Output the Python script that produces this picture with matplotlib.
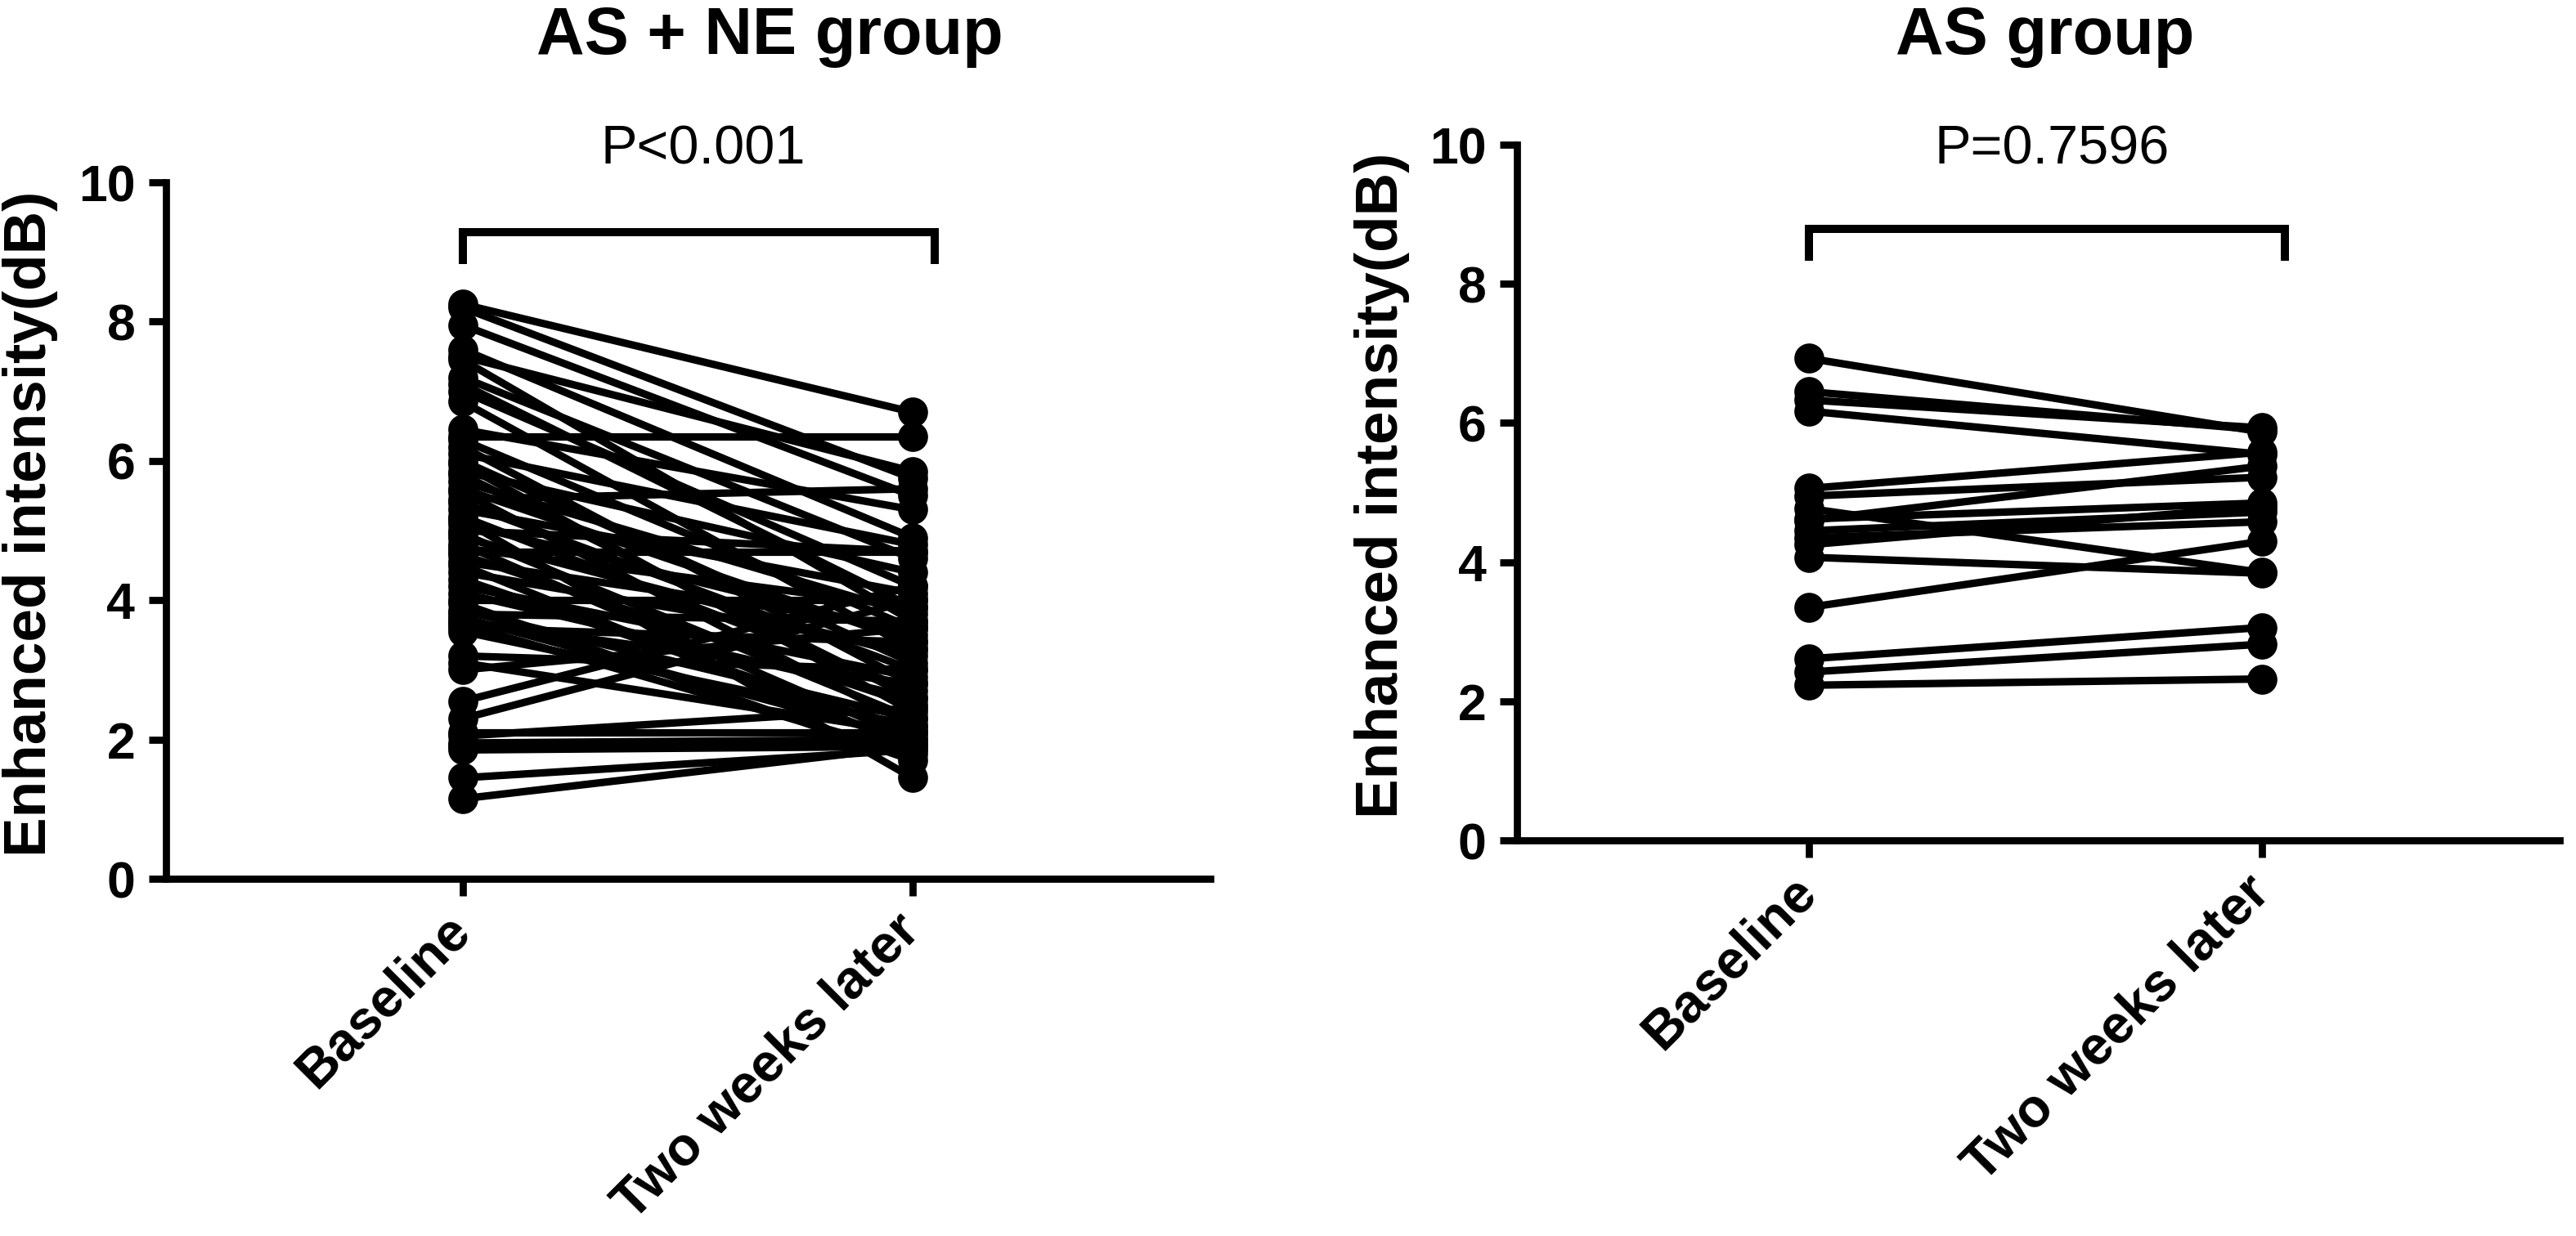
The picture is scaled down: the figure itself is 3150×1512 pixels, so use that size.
#-  plot.py ~~
#
#   Paired before/after plot of enhanced intensity for the two treatment
#   groups, drawn as two side-by-side panels like the GraphPad original.

import matplotlib
matplotlib.use("Agg")
import matplotlib.pyplot as pyplot

###

categories = ["Baseline", "Two weeks later"]

ne_baseline = [8.25, 8.20, 7.95, 7.60, 7.50, 7.45, 7.20, 7.10, 7.00, 6.85,
               6.45, 6.35, 6.30, 6.20, 6.10, 6.00, 5.95, 5.85, 5.80, 5.70,
               5.60, 5.55, 5.45, 5.40, 5.30, 5.20, 5.15, 5.10, 5.00, 4.95,
               4.90, 4.80, 4.75, 4.70, 4.65, 4.55, 4.50, 4.40, 4.30, 4.20,
               4.10, 4.00, 3.95, 3.85, 3.80, 3.75, 3.70, 3.65, 3.60, 3.55,
               3.20, 3.10, 3.00, 2.55, 2.30, 2.10, 2.05, 1.95, 1.90, 1.85,
               1.45, 1.15]
ne_later = [6.70, 5.75, 5.50, 4.90, 5.85, 3.70, 4.60, 3.90, 4.20, 3.30,
            5.30, 6.35, 3.60, 2.80, 4.80, 3.10, 2.40, 4.40, 2.60, 3.80,
            3.40, 2.20, 5.60, 3.00, 4.10, 2.70, 1.45, 3.50, 4.70, 2.30,
            3.20, 2.00, 3.90, 4.70, 2.50, 3.60, 1.90, 3.30, 2.10, 2.90,
            2.60, 4.00, 1.70, 2.30, 3.70, 2.00, 2.80, 1.80, 3.40, 2.20,
            3.00, 2.10, 3.60, 4.20, 4.00, 2.10, 2.45, 2.00, 1.95, 1.90,
            1.85, 1.90]

as_baseline = [6.93, 6.45, 6.33, 6.17, 5.06, 4.95, 4.60, 4.77, 4.62, 4.45,
               4.35, 4.25, 4.07, 3.35, 2.61, 2.42, 2.23]
as_later = [5.87, 5.90, 5.93, 5.55, 5.58, 5.22, 5.38, 3.85, 4.85, 4.72,
            4.58, 4.80, 3.84, 4.30, 3.06, 2.82, 2.32]

titles = ["AS + NE group", "AS group"]
p_labels = ["P<0.001", "P=0.7596"]
y_label = "Enhanced intensity(dB)"
y_ticks = [0, 2, 4, 6, 8, 10]

###

def draw_panel(fig, rect, xlim, before, after, title, title_x, p_text, p_y,
               p_x, bracket_y, bracket_drop):

    ax = fig.add_axes(rect)

    for b, a in zip(before, after):
        ax.plot([0, 1], [b, a], color="black", linewidth=2.2, marker="o",
                markersize=7.8, solid_capstyle="butt", clip_on=False)

    ax.set_xlim(*xlim)
    ax.set_ylim(0, 10)
    ax.set_yticks(y_ticks)
    ax.set_xticks([0, 1])
  # Rotated labels pinned by their mid-line so they sit under the tick
    ax.set_xticklabels(categories, rotation=45, ha="right", va="center",
                       rotation_mode="anchor", fontsize=15.8,
                       fontweight="bold")
    ax.set_yticklabels([str(t) for t in y_ticks], fontsize=15,
                       fontweight="bold")
    ax.set_ylabel(y_label, fontsize=17.5, fontweight="bold")
    ax.yaxis.set_label_coords(-0.103, 0.51)

  # GraphPad style: only left and bottom spines, thick, ticks outward
    for side in ("top", "right"):
        ax.spines[side].set_visible(False)
    for side in ("left", "bottom"):
        ax.spines[side].set_linewidth(2.1)
    ax.tick_params(axis="y", direction="out", width=2.1, length=5, pad=4)
    ax.tick_params(axis="x", direction="out", width=2.1, length=5, pad=8)

  # Significance bracket and p value above it
    ax.plot([0, 0, 1.05, 1.05],
            [bracket_y - bracket_drop, bracket_y, bracket_y,
             bracket_y - bracket_drop],
            color="black", linewidth=2.4, solid_joinstyle="miter",
            clip_on=False)
    ax.text(p_x, p_y, p_text, ha="center", va="center", fontsize=16,
            clip_on=False)

    fig.text(title_x, 0.97, title, ha="center", va="center", fontsize=19.5,
             fontweight="bold")

    return ax

###

def main():

    pyplot.rcParams["font.family"] = ["Liberation Sans", "DejaVu Sans"]

    fig = pyplot.figure(figsize=(10.5, 5.04), dpi=300)

    draw_panel(fig, [0.0644, 0.289, 0.4054, 0.5635], (-0.66, 1.662),
               ne_baseline, ne_later, titles[0], 0.299, p_labels[0], 10.46,
               0.535, 9.28, 0.40)
    draw_panel(fig, [0.5889, 0.3201, 0.4048, 0.5628], (-0.644, 1.657),
               as_baseline, as_later, titles[1], 0.794, p_labels[1], 9.92,
               0.536, 8.79, 0.40)

    fig.savefig("out.png", dpi=300)

###

if __name__ == "__main__":
    main()
